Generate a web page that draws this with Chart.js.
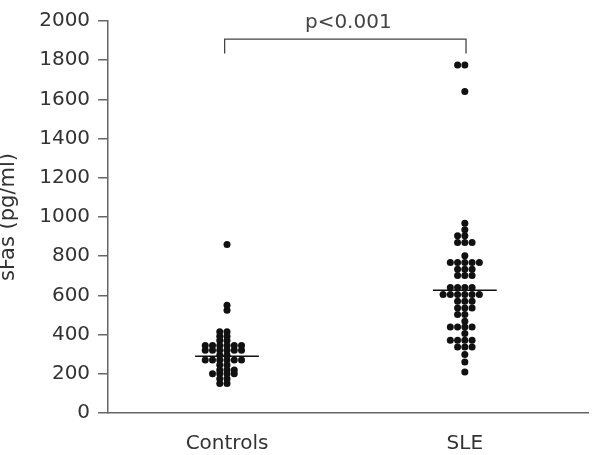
<!DOCTYPE html>
<html>
<head>
<meta charset="utf-8">
<script src="https://cdn.jsdelivr.net/npm/chart.js@4"></script>
<style>
  body { margin: 0; background: #fff; }
  #wrap { width: 592px; height: 455px; }
</style>
</head>
<body>
<div id="wrap"><canvas id="sfasChart"></canvas></div>
<script>
// groups and values (pg/ml), one entry per dot
const categories = ['Controls', 'SLE'];
const controlsValues = [
  860, 550, 524,
  414, 414, 392, 392, 370, 370,
  345, 345, 345, 345, 345, 345,
  320, 320, 320, 320, 320, 320,
  295, 295,
  270, 270, 270, 270, 270, 270,
  245, 245, 220, 220, 220,
  200, 200, 200, 200, 175, 175, 150, 150
];
const sleValues = [
  1775, 1775, 1640,
  968, 935, 904, 904, 870, 870, 870,
  802, 768, 768, 768, 768, 768,
  734, 734, 734, 701, 701, 701,
  640, 640, 640, 640,
  604, 604, 604, 604, 604, 604,
  570, 570, 570, 536, 536, 536, 502, 502, 468,
  439, 439, 439, 439, 405,
  371, 371, 371, 371, 337, 337, 337,
  299, 260, 209
];
const medians = [290, 626];
const pLabel = 'p<0.001';
const bracketFoot = 1834;
const bracketTop = 1908;
const pLabelY = 1990;

const FONT = "'DejaVu Sans', sans-serif";
const colStep = 0.0305;   // horizontal gap between dots, x units
const medianHalf = 0.134;

// dots with the same value sit side by side in one row, like the original
function columnScatter(values, center) {
  const rows = new Map();
  values.forEach(v => {
    if (!rows.has(v)) rows.set(v, 0);
    rows.set(v, rows.get(v) + 1);
  });
  const pts = [];
  rows.forEach((n, v) => {
    for (let i = 0; i < n; i++) {
      pts.push({ x: center + (i - Math.floor(n / 2)) * colStep, y: v });
    }
  });
  return pts;
}

const dotStyle = {
  type: 'scatter',
  pointRadius: 3.5,
  pointHoverRadius: 3.5,
  pointBackgroundColor: '#111',
  pointBorderWidth: 0,
  showLine: false
};
const lineStyle = {
  type: 'line',
  borderColor: '#111',
  borderWidth: 1.5,
  pointRadius: 0,
  fill: false,
  tension: 0
};

const datasets = [
  Object.assign({ label: categories[0], data: columnScatter(controlsValues, 1) }, dotStyle),
  Object.assign({ label: categories[1], data: columnScatter(sleValues, 2) }, dotStyle),
  Object.assign({ label: 'median ' + categories[0], data: [
    { x: 1 - medianHalf, y: medians[0] }, { x: 1 + medianHalf, y: medians[0] }
  ] }, lineStyle),
  Object.assign({ label: 'median ' + categories[1], data: [
    { x: 2 - medianHalf, y: medians[1] }, { x: 2 + medianHalf, y: medians[1] }
  ] }, lineStyle),
  Object.assign({ label: 'bracket', data: [
    { x: 0.99, y: bracketFoot }, { x: 0.99, y: bracketTop },
    { x: 2.005, y: bracketTop }, { x: 2.005, y: bracketFoot }
  ] }, lineStyle, { borderColor: '#444', borderWidth: 1.3 })
];

// p value text above the bracket
const pValuePlugin = {
  id: 'pValue',
  afterDatasetsDraw(chart) {
    const { ctx, scales: { x, y } } = chart;
    ctx.save();
    ctx.font = '20px ' + FONT;
    ctx.fillStyle = '#444';
    ctx.textAlign = 'center';
    ctx.textBaseline = 'middle';
    ctx.fillText(pLabel, x.getPixelForValue(1.51), y.getPixelForValue(pLabelY));
    ctx.restore();
  }
};

new Chart(document.getElementById('sfasChart'), {
  type: 'scatter',
  data: { datasets: datasets },
  plugins: [pValuePlugin],
  options: {
    responsive: true,
    maintainAspectRatio: false,
    animation: false,
    layout: { padding: { left: -4, right: 2, top: 21, bottom: -20 } },
    plugins: {
      legend: { display: false },
      tooltip: { enabled: false }
    },
    scales: {
      x: {
        type: 'linear',
        min: 0.5,
        max: 2.52,
        afterBuildTicks: scale => { scale.ticks = [{ value: 1 }, { value: 2 }]; },
        ticks: {
          callback: v => categories[v - 1],
          color: '#333',
          padding: 19,
          font: { size: 20, family: FONT }
        },
        grid: { display: false, drawTicks: false, tickLength: 0 },
        border: { display: true, color: '#666', width: 1.5 }
      },
      y: {
        min: 0,
        max: 2000,
        ticks: {
          stepSize: 200,
          callback: v => String(v),
          color: '#333',
          padding: 8,
          font: { size: 20, family: FONT }
        },
        grid: {
          drawOnChartArea: false,
          drawTicks: true,
          tickLength: 10,
          color: '#666',
          lineWidth: 1.5
        },
        border: { display: true, color: '#666', width: 1.5 },
        title: {
          display: true,
          text: 'sFas (pg/ml)',
          color: '#333',
          padding: { top: 0, bottom: 10 },
          font: { size: 21, family: FONT }
        }
      }
    }
  }
});
</script>
</body>
</html>
